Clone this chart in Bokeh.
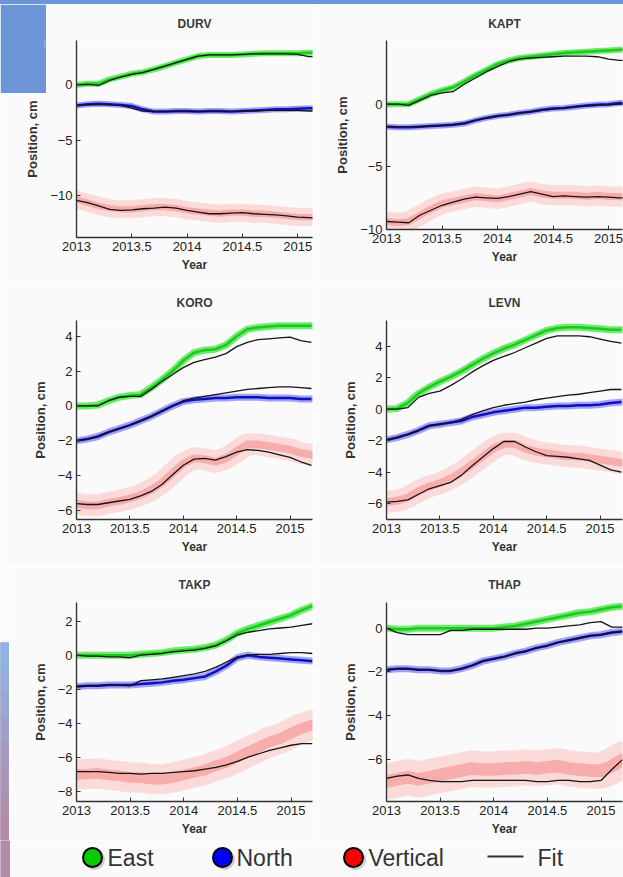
from bokeh.plotting import figure
from bokeh.layouts import column, row
from bokeh.models import FixedTicker, Range1d, GridBox, Div
from bokeh.embed import file_html
from bokeh.resources import INLINE
from bokeh.core.properties import value

# ---------------- data ----------------
YEARS = [2013.0, 2013.1, 2013.2, 2013.3, 2013.4, 2013.5, 2013.6, 2013.7, 2013.8, 2013.9,
         2014.0, 2014.1, 2014.2, 2014.3, 2014.4, 2014.5, 2014.6, 2014.7, 2014.8, 2014.9,
         2015.0, 2015.1, 2015.2]
X_TICKS = [2013, 2013.5, 2014, 2014.5, 2015]
X_TICK_LABELS = ["2013", "2013.5", "2014", "2014.5", "2015"]
LEGEND_LABELS = ["East", "North", "Vertical", "Fit"]
STATIONS = ["DURV", "KAPT", "KORO", "LEVN", "TAKP", "THAP"]

DURV_TICKS = [-10, -5, 0]
DURV_EAST = [0.0, 0.1, 0.1, 0.5, 0.75, 1.0, 1.15, 1.4, 1.7, 2.0, 2.3, 2.6, 2.7, 2.7, 2.7, 2.75, 2.8, 2.85, 2.85, 2.85, 2.85, 2.9, 2.9]
DURV_EAST_FIT = [0.0, 0.05, -0.05, 0.4, 0.7, 0.95, 1.1, 1.4, 1.7, 2.0, 2.3, 2.6, 2.7, 2.7, 2.7, 2.75, 2.8, 2.8, 2.8, 2.8, 2.75, 2.55, 2.55]
DURV_NORTH = [-1.85, -1.75, -1.7, -1.75, -1.8, -1.9, -2.2, -2.4, -2.4, -2.35, -2.35, -2.4, -2.35, -2.35, -2.4, -2.35, -2.3, -2.25, -2.2, -2.2, -2.15, -2.1, -2.1]
DURV_NORTH_FIT = [-1.85, -1.8, -1.75, -1.8, -1.85, -2.1, -2.35, -2.4, -2.4, -2.4, -2.4, -2.4, -2.4, -2.4, -2.4, -2.35, -2.35, -2.3, -2.3, -2.3, -2.3, -2.35, -2.35]
DURV_VERT = [-10.3, -10.6, -10.9, -11.1, -11.2, -11.2, -11.1, -11.0, -11.0, -11.1, -11.3, -11.4, -11.5, -11.6, -11.5, -11.5, -11.6, -11.6, -11.7, -11.8, -11.9, -11.9, -12.0]
DURV_VERT_FIT = [-10.4, -10.6, -10.9, -11.2, -11.3, -11.25, -11.15, -11.1, -11.0, -11.1, -11.3, -11.45, -11.6, -11.6, -11.55, -11.5, -11.6, -11.65, -11.7, -11.8, -11.9, -11.95, -12.0]

KAPT_TICKS = [-10, -5, 0]
KAPT_EAST = [0.0, 0.0, 0.0, 0.4, 0.8, 1.1, 1.35, 1.8, 2.3, 2.75, 3.2, 3.5, 3.7, 3.8, 3.9, 4.0, 4.1, 4.15, 4.2, 4.25, 4.3, 4.35, 4.4]
KAPT_EAST_FIT = [0.0, 0.0, -0.1, 0.3, 0.7, 0.9, 1.0, 1.6, 2.1, 2.6, 3.0, 3.4, 3.6, 3.7, 3.75, 3.8, 3.85, 3.85, 3.85, 3.8, 3.6, 3.5, 3.5]
KAPT_NORTH = [-1.8, -1.85, -1.85, -1.8, -1.75, -1.7, -1.65, -1.55, -1.3, -1.1, -0.95, -0.85, -0.7, -0.6, -0.45, -0.35, -0.3, -0.2, -0.1, -0.05, 0.0, 0.1, 0.1]
KAPT_NORTH_FIT = [-1.8, -1.8, -1.8, -1.8, -1.75, -1.7, -1.65, -1.5, -1.3, -1.1, -0.95, -0.85, -0.7, -0.6, -0.5, -0.4, -0.3, -0.2, -0.15, -0.1, -0.05, 0.0, 0.05]
KAPT_VERT = [-9.4, -9.5, -9.4, -8.9, -8.4, -8.0, -7.8, -7.6, -7.4, -7.5, -7.6, -7.4, -7.2, -7.0, -7.2, -7.3, -7.3, -7.3, -7.4, -7.3, -7.4, -7.4, -7.5]
KAPT_VERT_FIT = [-9.4, -9.45, -9.5, -8.9, -8.5, -8.1, -7.85, -7.6, -7.45, -7.5, -7.55, -7.4, -7.2, -7.0, -7.2, -7.4, -7.35, -7.4, -7.45, -7.4, -7.45, -7.5, -7.5]

KORO_TICKS = [-6, -4, -2, 0, 2, 4]
KORO_EAST = [0.0, 0.0, 0.05, 0.3, 0.5, 0.6, 0.65, 1.05, 1.5, 2.0, 2.6, 3.05, 3.2, 3.25, 3.5, 4.0, 4.4, 4.5, 4.55, 4.6, 4.6, 4.6, 4.6]
KORO_EAST_FIT = [0.0, 0.0, 0.0, 0.3, 0.5, 0.55, 0.55, 0.95, 1.4, 1.8, 2.2, 2.5, 2.65, 2.8, 3.0, 3.4, 3.65, 3.8, 3.85, 3.9, 3.95, 3.75, 3.65]
KORO_NORTH = [-2.0, -1.9, -1.75, -1.5, -1.3, -1.1, -0.85, -0.6, -0.3, 0.0, 0.25, 0.35, 0.4, 0.45, 0.45, 0.5, 0.5, 0.5, 0.45, 0.45, 0.45, 0.4, 0.4]
KORO_NORTH_FIT = [-2.0, -1.9, -1.75, -1.5, -1.3, -1.1, -0.85, -0.6, -0.3, 0.0, 0.3, 0.45, 0.55, 0.65, 0.75, 0.85, 0.95, 1.0, 1.05, 1.1, 1.1, 1.05, 1.0]
KORO_VERT = [-5.6, -5.7, -5.7, -5.55, -5.45, -5.3, -5.1, -4.8, -4.4, -3.85, -3.3, -3.0, -3.05, -3.2, -3.0, -2.6, -2.2, -2.2, -2.3, -2.4, -2.5, -2.7, -2.8]
KORO_VERT_FIT = [-5.6, -5.65, -5.65, -5.55, -5.45, -5.35, -5.15, -4.9, -4.5, -3.95, -3.4, -3.05, -3.0, -3.1, -2.9, -2.65, -2.5, -2.55, -2.65, -2.8, -2.95, -3.2, -3.4]

LEVN_TICKS = [-6, -4, -2, 0, 2, 4]
LEVN_EAST = [0.0, 0.05, 0.4, 1.0, 1.4, 1.75, 2.05, 2.4, 2.8, 3.2, 3.55, 3.85, 4.1, 4.4, 4.7, 5.0, 5.15, 5.2, 5.2, 5.15, 5.1, 5.05, 5.05]
LEVN_EAST_FIT = [0.0, 0.0, 0.1, 0.75, 1.0, 1.15, 1.5, 1.9, 2.35, 2.75, 3.1, 3.35, 3.6, 3.9, 4.2, 4.5, 4.65, 4.65, 4.65, 4.6, 4.45, 4.3, 4.2]
LEVN_NORTH = [-1.95, -1.8, -1.6, -1.35, -1.05, -0.95, -0.85, -0.75, -0.5, -0.35, -0.2, -0.1, 0.0, 0.1, 0.1, 0.15, 0.2, 0.2, 0.25, 0.25, 0.3, 0.4, 0.45]
LEVN_NORTH_FIT = [-1.95, -1.8, -1.6, -1.35, -1.05, -0.95, -0.85, -0.65, -0.35, -0.1, 0.1, 0.25, 0.35, 0.45, 0.6, 0.7, 0.8, 0.9, 0.95, 1.05, 1.15, 1.25, 1.25]
LEVN_VERT = [-5.9, -5.8, -5.6, -5.2, -4.9, -4.7, -4.4, -4.0, -3.5, -3.0, -2.5, -2.2, -2.2, -2.5, -2.7, -2.8, -2.9, -3.0, -3.0, -3.1, -3.2, -3.3, -3.4]
LEVN_VERT_FIT = [-5.9, -5.85, -5.75, -5.4, -5.05, -4.85, -4.65, -4.2, -3.6, -3.05, -2.5, -2.05, -2.05, -2.4, -2.7, -2.95, -3.0, -3.05, -3.15, -3.25, -3.55, -3.85, -4.0]

TAKP_TICKS = [-8, -6, -4, -2, 0, 2]
TAKP_EAST = [0.0, 0.0, 0.0, 0.0, 0.0, 0.0, 0.05, 0.1, 0.15, 0.25, 0.3, 0.35, 0.45, 0.6, 0.9, 1.3, 1.55, 1.75, 1.95, 2.15, 2.35, 2.65, 2.9]
TAKP_EAST_FIT = [0.0, -0.05, -0.05, -0.1, -0.1, -0.15, 0.0, 0.05, 0.1, 0.2, 0.25, 0.3, 0.4, 0.55, 0.85, 1.2, 1.35, 1.45, 1.55, 1.6, 1.65, 1.75, 1.85]
TAKP_NORTH = [-1.85, -1.8, -1.8, -1.75, -1.75, -1.75, -1.7, -1.65, -1.6, -1.5, -1.45, -1.35, -1.25, -0.95, -0.6, -0.15, 0.0, -0.1, -0.15, -0.2, -0.25, -0.3, -0.35]
TAKP_NORTH_FIT = [-1.85, -1.8, -1.8, -1.75, -1.75, -1.8, -1.5, -1.45, -1.4, -1.3, -1.2, -1.1, -0.95, -0.7, -0.4, -0.1, 0.0, 0.05, 0.05, 0.1, 0.15, 0.15, 0.1]
TAKP_VERT = [-7.0, -7.0, -6.95, -7.05, -7.1, -7.2, -7.2, -7.3, -7.3, -7.2, -7.05, -6.9, -6.75, -6.5, -6.3, -6.0, -5.7, -5.4, -5.1, -4.9, -4.6, -4.3, -4.1]
TAKP_VERT_FIT = [-6.85, -6.85, -6.85, -6.9, -6.95, -6.95, -7.0, -6.95, -6.95, -6.9, -6.85, -6.8, -6.7, -6.6, -6.45, -6.25, -6.0, -5.8, -5.6, -5.45, -5.3, -5.2, -5.2]

THAP_TICKS = [-8, -6, -4, -2, 0]
THAP_EAST = [0.0, -0.05, -0.05, 0.0, 0.0, 0.0, 0.0, 0.0, 0.0, 0.0, 0.0, 0.05, 0.1, 0.2, 0.3, 0.4, 0.5, 0.6, 0.7, 0.75, 0.85, 0.95, 1.0]
THAP_EAST_FIT = [0.0, -0.2, -0.3, -0.3, -0.3, -0.3, -0.1, -0.1, -0.05, -0.05, -0.05, -0.05, -0.05, -0.05, 0.0, 0.0, 0.05, 0.1, 0.15, 0.25, 0.3, 0.05, 0.05]
THAP_NORTH = [-1.9, -1.85, -1.85, -1.9, -1.9, -1.95, -1.95, -1.85, -1.7, -1.5, -1.4, -1.3, -1.15, -1.05, -0.9, -0.8, -0.65, -0.55, -0.45, -0.35, -0.3, -0.2, -0.15]
THAP_NORTH_FIT = [-1.9, -1.85, -1.85, -1.9, -1.9, -1.95, -1.95, -1.85, -1.7, -1.5, -1.4, -1.3, -1.15, -1.05, -0.9, -0.8, -0.65, -0.55, -0.45, -0.35, -0.3, -0.2, -0.15]
THAP_VERT = [-7.0, -6.9, -6.8, -6.9, -6.8, -6.7, -6.6, -6.5, -6.4, -6.45, -6.45, -6.4, -6.4, -6.35, -6.4, -6.35, -6.3, -6.4, -6.45, -6.5, -6.5, -6.3, -6.0]
THAP_VERT_FIT = [-6.85, -6.75, -6.7, -6.85, -6.95, -7.0, -7.0, -7.0, -6.95, -6.95, -6.95, -6.95, -6.95, -6.95, -7.0, -7.0, -6.95, -6.95, -7.0, -7.0, -6.95, -6.45, -6.0]

# ---------------- styling / layout ----------------
FONT = "Liberation Sans"
BG = "#fafafa"
SLIDE_BLUE = "#6c96d8"
STRIP_COLORS = ["#8db4e4", "#93aedc", "#98a8d3", "#9da2ca", "#a39cc1", "#a996b8", "#ae90af", "#b28ba8"]
GREEN, GREEN_D = "#3be83b", "#14c014"
BLUE, BLUE_D = "#4646ff", "#0000b4"
RED, RED_D = "#ff6a6a", "#f02828"

DATA = {
    "DURV": (DURV_EAST, DURV_EAST_FIT, DURV_NORTH, DURV_NORTH_FIT, DURV_VERT, DURV_VERT_FIT, DURV_TICKS),
    "KAPT": (KAPT_EAST, KAPT_EAST_FIT, KAPT_NORTH, KAPT_NORTH_FIT, KAPT_VERT, KAPT_VERT_FIT, KAPT_TICKS),
    "KORO": (KORO_EAST, KORO_EAST_FIT, KORO_NORTH, KORO_NORTH_FIT, KORO_VERT, KORO_VERT_FIT, KORO_TICKS),
    "LEVN": (LEVN_EAST, LEVN_EAST_FIT, LEVN_NORTH, LEVN_NORTH_FIT, LEVN_VERT, LEVN_VERT_FIT, LEVN_TICKS),
    "TAKP": (TAKP_EAST, TAKP_EAST_FIT, TAKP_NORTH, TAKP_NORTH_FIT, TAKP_VERT, TAKP_VERT_FIT, TAKP_TICKS),
    "THAP": (THAP_EAST, THAP_EAST_FIT, THAP_NORTH, THAP_NORTH_FIT, THAP_VERT, THAP_VERT_FIT, THAP_TICKS),
}

# per panel: (y_lo, y_hi, x_end, width, height, border L, R, T, B, title standoff, band E/N, band V)
LAYOUT = {
    "DURV": (-13.74, 4.0, 2015.134, 314, 279, 76, 2, 29, 46, 20, 6, 18),
    "KAPT": (-10.04, 5.1, 2015.126, 309, 279, 72, 1, 29, 54, 20, 6, 20),
    "KORO": (-6.51, 4.9, 2015.21, 314, 282, 76, 2, 34, 46, 21, 7, 22),
    "LEVN": (-7.0, 5.63, 2015.21, 309, 282, 72, 1, 34, 46, 21, 7, 22),
    "TAKP": (-8.61, 3.1, 2015.2, 305, 275, 67, 2, 34, 39, 21, 7, 30),
    "THAP": (-7.91, 1.17, 2015.2, 309, 275, 72, 1, 34, 39, 21, 7, 36),
}


def make_panel(name):
    east, east_fit, north, north_fit, vert, vert_fit, yticks = DATA[name]
    ylo, yhi, xend, w, h, bl, br, bt, bb, tso, wen, wv = LAYOUT[name]
    p = figure(width=w, height=h, x_range=Range1d(2013.0, xend), y_range=Range1d(ylo, yhi),
               output_backend="svg", toolbar_location=None, title=name,
               min_border_left=bl, min_border_right=br, min_border_top=bt, min_border_bottom=bb,
               background_fill_color=BG, border_fill_color=BG, outline_line_color=None)
    p.grid.visible = False
    p.title.align = "center"
    p.title.text_font = FONT
    p.title.text_font_size = "12px"
    p.title.text_font_style = "bold"
    p.title.text_color = "#3a3a3a"
    p.title.standoff = tso

    for ax in (p.xaxis[0], p.yaxis[0]):
        ax.axis_line_color = "#333333"
        ax.axis_line_width = 1.4
        ax.major_tick_line_color = "#333333"
        ax.major_tick_in = 4
        ax.major_tick_out = 0
        ax.minor_tick_line_color = None
        ax.major_label_text_font = FONT
        ax.major_label_text_font_size = "13px"
        ax.major_label_text_color = "#222222"
        ax.axis_label_text_font = FONT
        ax.axis_label_text_font_style = "bold"
        ax.axis_label_text_color = "#333333"

    p.xaxis.ticker = FixedTicker(ticks=X_TICKS)
    p.xaxis.major_label_overrides = dict(zip(X_TICKS, X_TICK_LABELS))
    p.xaxis.axis_label = "Year"
    p.xaxis.axis_label_text_font_size = "12px"
    p.xaxis.major_label_standoff = 4
    p.xaxis.axis_label_standoff = 4

    p.yaxis.ticker = FixedTicker(ticks=yticks)
    p.yaxis.axis_label = "Position, cm"
    p.yaxis.axis_label_text_font_size = "13px"
    p.yaxis.major_label_standoff = 4
    p.yaxis.axis_label_standoff = 7

    # observations (dense point clouds drawn as translucent bands)
    p.line(YEARS, vert, line_color=RED, line_width=wv, line_alpha=0.22, line_join="round", line_cap="round")
    p.line(YEARS, vert, line_color=RED_D, line_width=wv * 0.35, line_alpha=0.25, line_join="round", line_cap="round")
    p.line(YEARS, north, line_color=BLUE, line_width=wen, line_alpha=0.5, line_join="round", line_cap="round")
    p.line(YEARS, north, line_color=BLUE_D, line_width=2.5, line_alpha=0.9, line_join="round")
    p.line(YEARS, east, line_color=GREEN, line_width=wen, line_alpha=0.75, line_join="round", line_cap="round")
    p.line(YEARS, east, line_color=GREEN_D, line_width=2.5, line_alpha=0.85, line_join="round")
    # model fits
    for fit in (vert_fit, north_fit, east_fit):
        p.line(YEARS, fit, line_color="#151515", line_width=1.3, line_join="round")
    return p


def plain(w, h, color):
    """A solid block of slide colour (the whole canvas is filled)."""
    f = figure(width=w, height=h, x_range=Range1d(0, 1), y_range=Range1d(0, 1),
               output_backend="svg", toolbar_location=None, min_border=0,
               background_fill_color=color, border_fill_color=color, outline_line_color=None)
    f.axis.visible = False
    f.grid.visible = False
    f.title.visible = False
    return f


panels = {name: make_panel(name) for name in STATIONS}

# top slide band (no widget margin, so it stays 4 px tall)
top_band = Div(text="", width=623, height=4, margin=0,
               styles={"background-color": SLIDE_BLUE, "overflow": "hidden"})

# blue slide block at the top left, laid over the DURV panel's left margin
durv_cell = GridBox(children=[(panels["DURV"], 0, 0), (plain(46, 89, SLIDE_BLUE), 0, 0)])

# left slide strip next to the bottom row
strip = figure(width=9, height=198, x_range=Range1d(0, 1), y_range=Range1d(0, 1),
               output_backend="svg", toolbar_location=None, min_border=0,
               background_fill_color=STRIP_COLORS[-1], border_fill_color=STRIP_COLORS[0],
               outline_line_color=None)
strip.axis.visible = False
strip.grid.visible = False
strip.title.visible = False
n = len(STRIP_COLORS)
strip.quad(left=[0] * n, right=[1] * n, top=[1 - i / n for i in range(n)],
           bottom=[1 - (i + 1) / n for i in range(n)], color=STRIP_COLORS)
left_col = column(plain(9, 77, BG), strip)

# ---------------- legend strip ----------------
leg = figure(width=623, height=37, x_range=Range1d(0, 623), y_range=Range1d(0, 37),
             output_backend="svg", toolbar_location=None, min_border=0,
             background_fill_color=BG, border_fill_color=BG, outline_line_color=None)
leg.axis.visible = False
leg.grid.visible = False
leg.title.visible = False
leg.quad(left=[0], right=[9], bottom=[0], top=[37], color=STRIP_COLORS[-1])
marker_x = [92, 222, 353]
marker_colors = ["#00cc00", "#0000ff", "#ff0000"]
leg.scatter([x + 2 for x in marker_x], [18, 18, 18], size=20, color="#777777", alpha=0.3)
leg.scatter(marker_x, [20, 20, 20], size=19, fill_color=marker_colors, line_color="black", line_width=2)
leg.line([487, 523], [21, 21], line_color="#333333", line_width=2)
leg.text([107, 236, 368, 537], [20, 20, 20, 20], text=LEGEND_LABELS, text_font=value(FONT),
         text_font_size="23px", text_color="#333333", text_baseline="middle")

layout = column(top_band,
                row(durv_cell, panels["KAPT"]),
                row(panels["KORO"], panels["LEVN"]),
                row(left_col, panels["TAKP"], panels["THAP"]),
                leg)

open("out.html", "w").write(file_html(layout, INLINE))
